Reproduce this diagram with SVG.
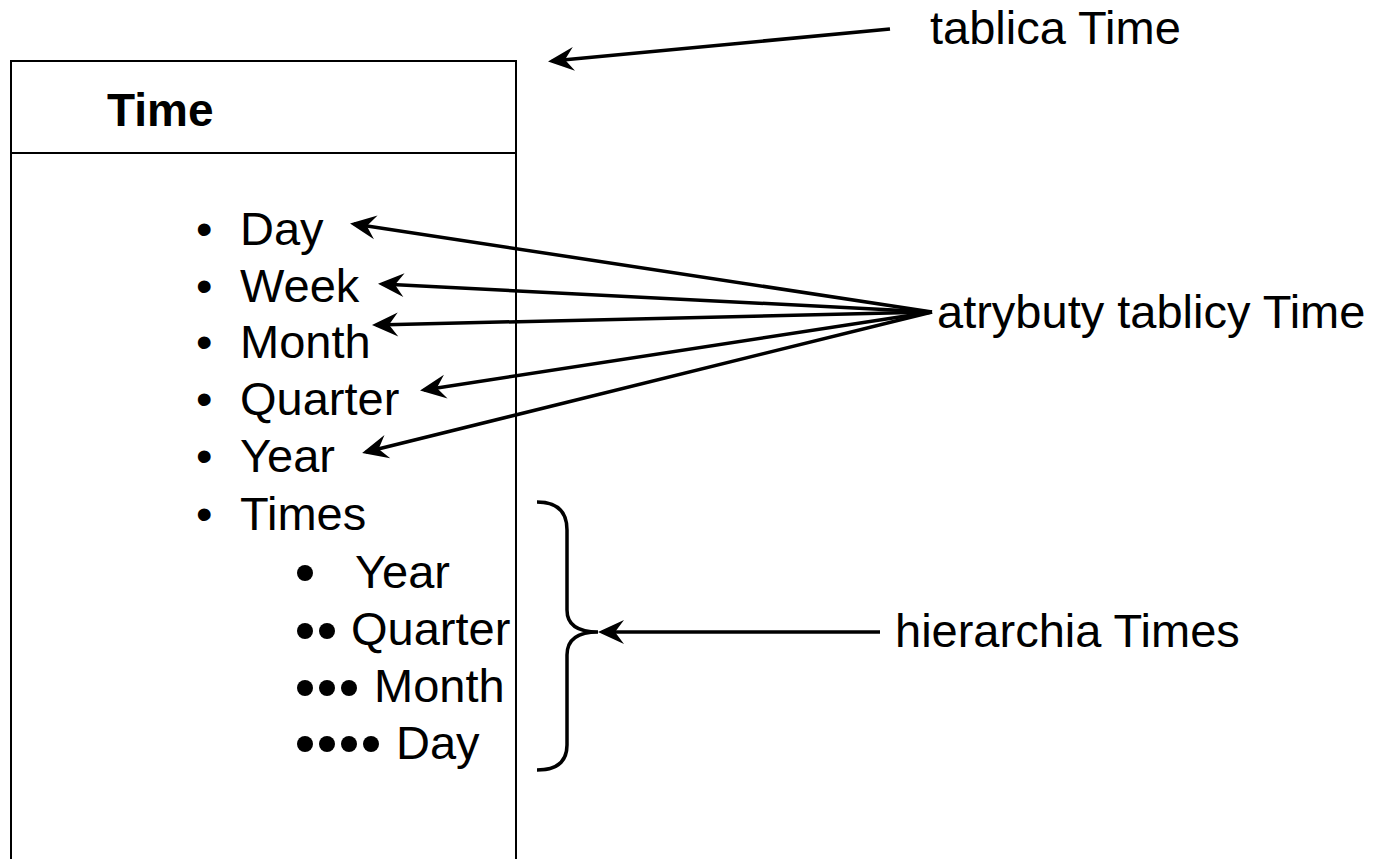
<svg xmlns="http://www.w3.org/2000/svg" width="1383" height="859" viewBox="0 0 1383 859">
<style>
text{font-family:"Liberation Sans",Arial,sans-serif;font-size:47px;fill:#000}
.b{font-weight:bold;font-size:46px}
.con{stroke:#000;stroke-width:3.5;fill:none}
.box{stroke:#000;stroke-width:2;fill:#fff}
.dot{fill:#000}
</style>
<defs>
<marker id="ah" markerUnits="userSpaceOnUse" markerWidth="40" markerHeight="30" viewBox="-30 -15 40 30" refX="0" refY="0" orient="auto">
<path d="M4,0 L-22,-12 L-13,0 L-22,12 Z" fill="#000"/>
</marker>
</defs>
<rect width="1383" height="859" fill="#fff"/>
<g id="table-time">
<path class="box" d="M11,870 L11,61 L516,61 L516,870"/>
<line x1="11" y1="153" x2="516" y2="153" stroke="#000" stroke-width="2"/>
<text class="b" x="107" y="126">Time</text>
<text x="196" y="245">•</text><text x="240" y="245">Day</text>
<text x="196" y="302">•</text><text x="240" y="302">Week</text>
<text x="196" y="358">•</text><text x="240" y="358">Month</text>
<text x="196" y="415">•</text><text x="240" y="415">Quarter</text>
<text x="196" y="472">•</text><text x="240" y="472">Year</text>
<text x="196" y="530">•</text><text x="240" y="530">Times</text>
<circle class="dot" cx="305" cy="573" r="8"/>
<text x="355" y="588">Year</text>
<circle class="dot" cx="305" cy="631" r="8"/><circle class="dot" cx="327" cy="631" r="8"/>
<text x="351" y="645">Quarter</text>
<circle class="dot" cx="305" cy="688" r="8"/><circle class="dot" cx="327" cy="688" r="8"/><circle class="dot" cx="349" cy="688" r="8"/>
<text x="374" y="702">Month</text>
<circle class="dot" cx="305" cy="744" r="8"/><circle class="dot" cx="327" cy="744" r="8"/><circle class="dot" cx="349" cy="744" r="8"/><circle class="dot" cx="371" cy="744" r="8"/>
<text x="396" y="759">Day</text>
</g>
<g id="label-tablica"><text x="930" y="44">tablica Time</text></g>
<g id="label-atrybuty"><text x="937" y="328">atrybuty tablicy Time</text></g>
<g id="label-hierarchia"><text x="895" y="647">hierarchia Times</text></g>
<g id="brace"><path class="con" stroke-width="4" d="M537,502 Q567,502 567,530 L567,610 Q567,632 598,632 Q567,632 567,655 L567,745 Q567,770 537,770"/></g>
<g id="connectors">
<line class="con" x1="890" y1="29" x2="552" y2="61" marker-end="url(#ah)"/>
<line class="con" x1="932" y1="312" x2="354" y2="224" marker-end="url(#ah)"/>
<line class="con" x1="932" y1="312" x2="382" y2="284" marker-end="url(#ah)"/>
<line class="con" x1="932" y1="312" x2="376" y2="325" marker-end="url(#ah)"/>
<line class="con" x1="932" y1="312" x2="424" y2="390" marker-end="url(#ah)"/>
<line class="con" x1="932" y1="312" x2="366" y2="452" marker-end="url(#ah)"/>
<line class="con" x1="880" y1="632" x2="602" y2="632" marker-end="url(#ah)"/>
</g>
</svg>
